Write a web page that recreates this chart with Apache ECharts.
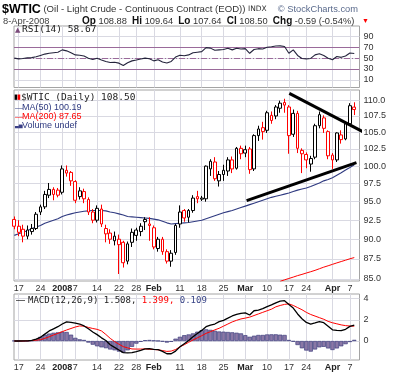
<!DOCTYPE html>
<html><head><meta charset="utf-8">
<script src="https://cdn.jsdelivr.net/npm/echarts@6/dist/echarts.min.js"></script>
<style>html,body{margin:0;padding:0;background:#fff}#c{width:400px;height:375px}</style>
</head><body><div id="c"></div>
<script>
const dates = ['Dec 14','Dec 17','Dec 18','Dec 19','Dec 20','Dec 21','Dec 24','Dec 26','Dec 27','Dec 28','Dec 31',
 'Jan 2','Jan 3','Jan 4','Jan 7','Jan 8','Jan 9','Jan 10','Jan 11','Jan 14','Jan 15','Jan 16','Jan 17','Jan 18','Jan 22','Jan 23','Jan 24','Jan 25','Jan 28','Jan 29','Jan 30','Jan 31',
 'Feb 1','Feb 4','Feb 5','Feb 6','Feb 7','Feb 8','Feb 11','Feb 12','Feb 13','Feb 14','Feb 15','Feb 18','Feb 19','Feb 20','Feb 21','Feb 22','Feb 25','Feb 26','Feb 27','Feb 28','Feb 29',
 'Mar 3','Mar 4','Mar 5','Mar 6','Mar 7','Mar 10','Mar 11','Mar 12','Mar 13','Mar 14','Mar 17','Mar 18','Mar 19','Mar 20','Mar 24','Mar 25','Mar 26','Mar 27','Mar 28','Mar 31',
 'Apr 1','Apr 2','Apr 3','Apr 4','Apr 7','Apr 8'];
const openP  = [92.6,91.7,91.3,90.4,91.0,91.4,93.6,94.3,95.9,96.7,96.6, 96.3,99.4,99.1,97.8,95.7,96.4,95.3,93.6,92.5,94.0,91.4,90.8,89.8,90.0,89.6,87.2,89.6,90.5,91.0,92.6,92.0,
 91.5,88.8,90.0,88.4,87.2,88.3,92.0,93.8,92.9,93.8,95.7,95.35,95.4,99.6,100.6,97.9,98.8,99.3,100.9,99.7,102.6,
 101.9,102.5,99.6,104.5,105.7,105.3,106.8,107.5,108.7,109.6,108.9,104.7,107.9,102.3,101.7,100.3,101.3,106.0,107.2,105.1,
 101.6,100.9,104.6,104.0,106.3,108.88];
const highP  = [93.0,92.5,91.9,91.8,92.0,93.6,94.6,96.5,97.6,97.0,96.9, 100.1,100.1,99.3,98.0,97.0,96.8,95.6,94.0,94.5,94.6,91.9,91.3,91.0,90.6,89.8,89.7,91.4,91.5,92.1,92.9,92.9,
 91.8,90.3,90.3,88.7,88.6,92.0,94.5,94.0,94.0,95.9,96.5,95.8,100.1,101.0,101.3,99.3,100.2,101.3,101.4,102.8,103.0,
 103.0,102.8,104.7,106.0,106.6,108.3,108.2,109.2,109.9,110.2,109.2,108.5,108.3,102.6,102.0,101.5,106.3,108.2,107.6,105.3,
 101.9,105.0,105.3,106.5,109.5,109.64];
const lowP   = [91.3,90.4,89.6,90.0,90.6,91.2,93.2,94.0,95.5,95.2,95.6, 96.0,98.5,97.2,94.8,95.3,94.8,93.2,92.1,92.2,91.6,89.6,89.4,89.2,85.6,86.4,86.8,89.0,89.8,90.4,91.2,89.8,
 88.7,88.4,88.0,86.9,86.5,88.0,91.5,92.3,92.2,93.5,94.8,95.1,95.0,98.6,97.9,97.1,97.9,98.6,99.0,99.5,101.0,
 101.3,98.9,99.3,103.7,103.9,104.9,106.3,107.0,108.0,108.0,101.8,104.3,101.9,99.0,99.7,99.2,101.0,105.6,104.9,101.0,
 99.6,100.6,103.3,103.8,106.0,107.64];
const closeP = [91.7,90.9,90.4,91.2,91.4,93.3,94.3,96.0,96.7,96.0,95.9, 99.6,99.0,97.9,95.2,96.5,95.4,93.6,92.5,94.1,92.0,90.7,90.0,90.4,89.3,87.0,89.4,90.9,91.2,91.7,92.3,91.8,
 89.0,90.0,88.4,87.2,88.2,91.8,93.6,92.8,93.8,95.5,95.4,95.5,100.0,100.7,98.2,98.8,99.4,100.9,99.6,102.6,101.8,
 102.4,99.5,104.5,105.5,105.1,108.0,107.6,108.9,109.5,109.2,104.5,107.9,102.6,101.8,100.9,101.1,106.0,107.7,105.6,101.5,
 100.9,104.9,103.9,106.3,109.1,108.50];
const ma50 = [90.5,90.7,90.9,91.1,91.4,91.6,91.8,92.1,92.3,92.5,92.7,93.0,93.2,93.35,93.5,93.6,93.7,93.75,93.8,93.8,93.8,93.75,93.6,93.5,93.35,93.2,93.0,92.95,92.9,92.85,92.8,92.75,
 92.65,92.55,92.35,92.15,92.0,92.05,92.1,92.15,92.2,92.3,92.4,92.5,92.7,92.9,93.1,93.3,93.5,93.65,93.8,94.0,94.2,
 94.4,94.6,94.8,95.0,95.2,95.4,95.6,95.75,95.9,96.05,96.2,96.4,96.6,96.75,96.9,97.1,97.35,97.6,97.9,98.1,
 98.35,98.7,99.05,99.45,99.8,100.19];
const ma200Start = 61;
const ma200 = [84.7,84.88,85.05,85.22,85.4,85.55,85.72,85.88,86.05,86.25,86.45,86.62,86.8,86.98,87.15,87.32,87.5,87.65];
const rsi = [50,48.7,49.5,50.5,51,52.5,55,57.5,59,60,61,65.3,63.5,60,56,55.5,54,50,47.5,50,46.5,44,42,42.5,40.8,36.4,41.5,45,46.5,48.5,50,49,
 45,47,43,41,44,52,55.5,54.5,56,60,61,62,69.5,68.5,64.5,65.3,66,68.4,65.3,68.4,67,
 67.5,59,66,67.5,67,70,71,72.5,72.7,71.4,59,65.3,55,49.5,48.7,49.5,56,58,55,50,
 47,53,51.5,54,59.5,58.67];
const macd = [0,0,0.02,0.02,0.05,0.18,0.35,0.65,0.95,1.15,1.35,1.6,1.8,1.75,1.68,1.6,1.42,1.15,0.85,0.6,0.3,0.05,-0.35,-0.6,-0.85,-1.1,-1.12,-1.1,-1.0,-0.88,-0.75,-0.72,
 -0.78,-0.82,-0.98,-1.2,-1.2,-0.95,-0.55,-0.25,0.05,0.4,0.7,1.0,1.35,1.5,1.6,1.82,1.95,2.15,2.36,2.5,2.6,
 2.65,2.45,2.85,2.92,3.05,3.24,3.4,3.6,3.75,3.8,3.45,3.1,2.55,2.1,1.75,1.6,1.7,1.82,1.73,1.4,
 1.05,1.0,0.97,1.1,1.38,1.508];
const signal = [0,0,0,0.02,0.04,0.08,0.12,0.25,0.4,0.57,0.72,0.88,1.04,1.18,1.32,1.42,1.4,1.28,1.18,1.1,0.95,0.62,0.25,-0.05,-0.3,-0.53,-0.65,-0.75,-0.76,-0.76,-0.75,-0.78,
 -0.8,-0.83,-0.9,-0.98,-0.95,-0.8,-0.55,-0.35,-0.12,0.1,0.3,0.5,0.72,0.88,1.05,1.2,1.4,1.6,1.8,1.95,2.08,
 2.16,2.25,2.4,2.55,2.7,2.85,3.0,3.22,3.35,3.45,3.5,3.35,3.15,2.95,2.7,2.5,2.35,2.2,2.05,1.85,
 1.72,1.62,1.52,1.45,1.41,1.399];
const hist = [0.02,0,-0.02,0,0.05,0.15,0.4,0.6,0.7,0.78,0.82,0.88,0.85,0.6,0.3,0.16,0.1,-0.15,-0.35,-0.5,-0.6,-0.68,-0.8,-0.88,-1.0,-1.1,-0.88,-0.55,-0.25,-0.08,0.08,0.1,
 0.05,0.02,-0.06,-0.15,-0.08,0.22,0.4,0.55,0.62,0.72,0.88,1.02,1.1,1.05,0.97,0.9,0.88,0.85,0.82,0.78,0.72,
 0.55,0.4,0.5,0.57,0.57,0.62,0.63,0.63,0.6,0.57,0.1,-0.06,-0.38,-0.69,-0.9,-1.0,-0.8,-0.6,-0.55,-0.7,
 -0.85,-0.7,-0.5,-0.3,-0.1,0.109];
const tickIdx = [1,6,11,14,19,24,28,32,38,43,48,53,58,63,67,73,77];
const tickLabels = ['17','24','2008','7','14','22','28','Feb','11','18','25','Mar','10','17','24','Apr','7'];
const boldLabels = ['2008','Feb','Mar','Apr'];
const priceTicks = [85,87.5,90,92.5,95,97.5,100,102.5,105,107.5,110];
const rsiTicks = [10,30,50,70,90];
const macdTicks = [0,2,4];
const rsiBands = [70,30];
const rsiMid = 50;
// trend lines drawn on the chart: [day index, price]
const resistance = [[63.1,111.07],[80.4,104.94]];
const support = [[53.3,95.15],[78.5,100.5]];

const FONT = 'Liberation Sans';
const MONO = 'DejaVu Sans Mono';
const splitColor = '#d9d9e2';
const borderColor = '#a4a4a4';

function xFmt(v){
  const k = tickIdx.indexOf(Math.round(v));
  if (k < 0) return '';
  const t = tickLabels[k];
  return boldLabels.indexOf(t) >= 0 ? '{b|' + t + '}' : t;
}
function xAx(g, showLabel){
  return {type:'value', gridIndex:g, min:-0.07, max:79.2,
    axisLine:{show:false}, axisTick:{show:false, customValues:tickIdx},
    axisLabel:{show:showLabel, customValues:tickIdx, formatter:xFmt, fontSize:9, color:'#333', margin:3, fontFamily:FONT,
      rich:{b:{fontWeight:'bold', fontSize:9, color:'#222', fontFamily:FONT}}},
    splitLine:{show:true, lineStyle:{color:splitColor, width:1}}};
}
function yAx(g, type, min, max, ticks, fmt){
  return {type:type, gridIndex:g, position:'right', min:min, max:max,
    axisLine:{show:false}, axisTick:{show:false, customValues:ticks},
    axisLabel:{customValues:ticks, formatter:fmt, fontSize:9, color:'#333', margin:4, fontFamily:FONT},
    splitLine:{show:true, lineStyle:{color:splitColor, width:1}}};
}
const gridBase = {left:14, right:40.5, show:true, borderColor:borderColor, borderWidth:1, backgroundColor:'#fff', containLabel:false, outerBoundsMode:'none'};

const candles = dates.map((d,i) => {
  const col = (i > 0 && closeP[i] >= closeP[i-1]) ? '#000000' : '#ff0000';
  return {value:[i, openP[i], closeP[i], lowP[i], highP[i]],
    itemStyle:{color:'#ffffff', color0:col, borderColor:col, borderColor0:col}};
});
const pts = arr => arr.map((v,i) => [i, v]);

function T(x, y, text, st){
  return {type:'text', x:x, y:y, silent:true, z:100,
    style:Object.assign({text:text, fontFamily:FONT, fontSize:9, fill:'#222', verticalAlign:'middle', align:'left'}, st||{})};
}

const option = {
  animation:false,
  backgroundColor:'#ffffff',
  textStyle:{fontFamily:FONT},
  grid:[
    Object.assign({top:26, height:61.5}, gridBase),
    Object.assign({top:90, height:191}, gridBase),
    Object.assign({top:294, height:66}, gridBase)
  ],
  xAxis:[xAx(0,false), xAx(1,true), xAx(2,true)],
  yAxis:[
    yAx(0,'value',-4.1,109.3,rsiTicks,v=>String(v)),
    yAx(1,'log',84.74,111.6,priceTicks,v=>Number(v).toFixed(1)),
    yAx(2,'value',-1.79,4.43,macdTicks,v=>String(v))
  ],
  series:[
    {type:'line', xAxisIndex:0, yAxisIndex:0, data:pts(rsi), showSymbol:false, lineStyle:{color:'#24243c', width:1.1}, z:5,
     markLine:{silent:true, symbol:['none','none'], label:{show:false},
       data: rsiBands.map(v => ({yAxis:v, lineStyle:{color:'#9a6a9a', width:1, type:'solid'}}))
         .concat([{yAxis:rsiMid, lineStyle:{color:'#9a6a9a', width:1, type:[6,2,1,2]}}])}},
    {type:'line', xAxisIndex:1, yAxisIndex:1, data:pts(ma50), showSymbol:false, lineStyle:{color:'#2f3a80', width:1.1}, z:3},
    {type:'line', xAxisIndex:1, yAxisIndex:1, data:ma200.map((v,k)=>[ma200Start+k, v]), showSymbol:false, lineStyle:{color:'#ff0000', width:1}, z:3},
    {type:'candlestick', xAxisIndex:1, yAxisIndex:1, data:candles, barWidth:3.2, z:4,
     itemStyle:{color:'#ffffff', color0:'#ff0000', borderColor:'#000000', borderColor0:'#ff0000', borderWidth:1}},
    {type:'line', xAxisIndex:1, yAxisIndex:1, data:resistance, showSymbol:false, clip:false, lineStyle:{color:'#000', width:3}, z:6},
    {type:'line', xAxisIndex:1, yAxisIndex:1, data:support, showSymbol:false, clip:false, lineStyle:{color:'#000', width:3}, z:6},
    {type:'bar', xAxisIndex:2, yAxisIndex:2, data:pts(hist), barWidth:4.3, z:2,
     itemStyle:{color:'#8a78a6', borderColor:'#3e3e7e', borderWidth:0.7}},
    {type:'line', xAxisIndex:2, yAxisIndex:2, data:pts(signal), showSymbol:false, lineStyle:{color:'#ff0000', width:1}, z:4},
    {type:'line', xAxisIndex:2, yAxisIndex:2, data:pts(macd), showSymbol:false, lineStyle:{color:'#000000', width:1.3}, z:5}
  ],
  graphic:[
    T(2, 9.5, '{t|$WTIC} {d|(Oil - Light Crude - Continuous Contract (EOD))} {s|INDX}', {rich:{
      t:{fontSize:12.5, fontWeight:'bold', fill:'#000', fontFamily:FONT},
      d:{fontSize:9.6, fill:'#333', fontFamily:FONT},
      s:{fontSize:7.5, fill:'#333', fontFamily:'DejaVu Sans'}}}),
    T(358, 9, '\u00a9 StockCharts.com', {align:'right', fill:'#5a6a8c', fontSize:9.3}),
    T(3, 21, '8-Apr-2008', {fill:'#444', fontSize:9.3}),
    T(82, 21, '{b|Op} 108.88  {b|Hi} 109.64  {b|Lo} 107.64  {b|Cl} 108.50  {b|Chg} -0.59 (-0.54%)', {fontSize:9.3, fill:'#333',
      rich:{b:{fontWeight:'bold', fontSize:10, fill:'#111', fontFamily:FONT}}}),
    T(362, 21, '\u25BC', {fill:'#ff0000', fontSize:7}),
    T(15, 30, '\u25B2', {fill:'#7a4a7a', fontSize:7, fontFamily:'DejaVu Sans'}),
    T(22, 30, 'RSI(14) 58.67', {fontFamily:MONO, fontSize:9.5, fill:'#222'}),
    T(14, 97.5, '\u25AE', {fill:'#000', fontSize:7, fontFamily:'DejaVu Sans'}),
    T(17, 97.5, '\u25AE', {fill:'#ff0000', fontSize:7, fontFamily:'DejaVu Sans'}),
    T(21, 97.5, '$WTIC (Daily) 108.50', {fontFamily:MONO, fontSize:9.5, fill:'#222'}),
    T(15, 107.5, '\u2014', {fill:'#2f3a80', fontSize:8}),
    T(22, 107.5, 'MA(50) 100.19', {fill:'#2f3a80', fontSize:9}),
    T(15, 116.8, '\u2014', {fill:'#ff0000', fontSize:8}),
    T(22, 116.8, 'MA(200) 87.65', {fill:'#ff0000', fontSize:9}),
    T(15, 125.5, '\u2583\u2585', {fill:'#3a3f86', fontSize:5, fontFamily:'DejaVu Sans'}),
    T(22, 125.5, 'Volume undef', {fill:'#2f3a80', fontSize:9}),
    T(16, 301, '\u2014', {fill:'#000', fontSize:9}),
    T(28, 301, '{k|MACD(12,26,9) 1.508,} {r|1.399,} {n|0.109}', {fontFamily:MONO, fontSize:9,
      rich:{k:{fill:'#222', fontFamily:MONO, fontSize:9}, r:{fill:'#ff0000', fontFamily:MONO, fontSize:9}, n:{fill:'#3a4688', fontFamily:MONO, fontSize:9}}})
  ]
};
const chart = echarts.init(document.getElementById('c'), null, {renderer:'canvas'});
chart.setOption(option);
</script></body></html>
